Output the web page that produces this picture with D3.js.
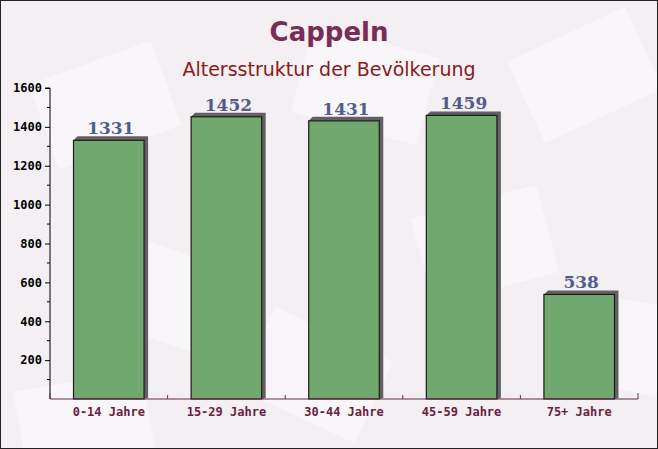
<!DOCTYPE html>
<html><head><meta charset="utf-8">
<script src="https://cdn.jsdelivr.net/npm/d3@7"></script>
<style>html,body{margin:0;padding:0;background:#fff}svg{display:block}</style>
</head><body><svg id="c" width="658" height="449"></svg>
<script>
const categories = ["0-14 Jahre","15-29 Jahre","30-44 Jahre","45-59 Jahre","75+ Jahre"];
const values = [1331,1452,1431,1459,538];
const yTicks = [200,400,600,800,1000,1200,1400,1600];
const title = "Cappeln";
const subtitle = "Altersstruktur der Bevölkerung";

const svg = d3.select("#c");
const W = 658, H = 449;
const m = {l:50, r:20, t:88, b:50};

// background
svg.append("rect").attr("width",W).attr("height",H).attr("fill","#f3eff2");
const deco = [[40,60,-20],[300,40,15],[520,30,-25],[100,250,20],[420,200,-15],[250,330,25],[560,300,10],[20,380,-10]];
deco.forEach(([x,y,r])=>{
  svg.append("rect").attr("x",x).attr("y",y).attr("width",130).attr("height",90)
    .attr("transform",`rotate(${r},${x+65},${y+45})`)
    .attr("fill","#ffffff").attr("opacity",0.45);
});

const x = d3.scaleBand().domain(categories).range([m.l, W-m.r]).paddingInner(0.4).paddingOuter(0.2);
const y = d3.scaleLinear().domain([0,1600]).range([H-m.b, m.t]);

// titles
svg.append("text").attr("x",329).attr("y",41).attr("text-anchor","middle")
  .attr("font-family","DejaVu Sans").attr("font-weight","bold").attr("font-size",26)
  .attr("fill","#7b2c55").text(title);
svg.append("text").attr("x",329).attr("y",76).attr("text-anchor","middle")
  .attr("font-family","DejaVu Sans").attr("font-size",19)
  .attr("fill","#8b1a1a").text(subtitle);

// bars with shadow
const d = 4;
const g = svg.append("g");
categories.forEach((c,i)=>{
  const x0 = x(c), bw = x.bandwidth(), yt = y(values[i]), yb = y(0);
  g.append("polygon")
    .attr("points",`${x0},${yt} ${x0+d},${yt-d} ${x0+bw+d},${yt-d} ${x0+bw+d},${yb-1} ${x0+bw},${yb} ${x0+bw},${yt}`)
    .attr("fill","#626062");
  g.append("rect").attr("x",x0).attr("y",yt).attr("width",bw).attr("height",yb-yt)
    .attr("fill","#62a05f").attr("fill-opacity",0.9).attr("stroke","#1a1a1a").attr("stroke-width",1.2);
  g.append("text").attr("x",x0+bw/2+2).attr("y",yt-6).attr("text-anchor","middle")
    .attr("font-family","DejaVu Serif").attr("font-weight","bold").attr("font-size",17)
    .attr("fill","#535c8a").text(values[i]);
});

// y axis
const ya = svg.append("g").attr("transform",`translate(${m.l},0)`)
  .call(d3.axisLeft(y).tickValues(yTicks).tickSize(5).tickPadding(3).tickFormat(d3.format("d")));
ya.select(".domain").attr("d",`M-5,${y(1600)}H0V${y(0)}`).attr("stroke","#000");
ya.selectAll(".tick line").attr("stroke","#000");
ya.selectAll("text").attr("font-family","DejaVu Sans Mono").attr("font-weight","bold").attr("font-size",12).attr("fill","#000");
const minor = d3.range(100,1600,200);
ya.selectAll(".minor").data(minor).enter().append("line").attr("class","minor")
  .attr("x1",-3).attr("x2",0).attr("y1",v=>y(v)).attr("y2",v=>y(v)).attr("stroke","#000");

// x axis
const xa = svg.append("g").attr("transform",`translate(0,${y(0)})`);
xa.append("line").attr("x1",m.l).attr("x2",W-m.r).attr("stroke","#6b2a4a").attr("stroke-width",1.2);
const bounds = d3.range(0,categories.length+1).map(i=>m.l + i*(W-m.l-m.r)/categories.length);
bounds.forEach((bx,i)=>{
  const h = (i===0||i===bounds.length-1)?6:4;
  xa.append("line").attr("x1",bx).attr("x2",bx).attr("y1",0).attr("y2",-h).attr("stroke","#6b2a4a");
});
categories.forEach(c=>{
  xa.append("text").attr("x",x(c)+x.bandwidth()/2).attr("y",17).attr("text-anchor","middle")
    .attr("font-family","DejaVu Sans Mono").attr("font-weight","bold").attr("font-size",12)
    .attr("fill","#6b1d3f").text(c);
});

// frame
svg.append("rect").attr("x",0.5).attr("y",0.5).attr("width",W-1).attr("height",H-1)
  .attr("fill","none").attr("stroke","#222");
</script></body></html>
